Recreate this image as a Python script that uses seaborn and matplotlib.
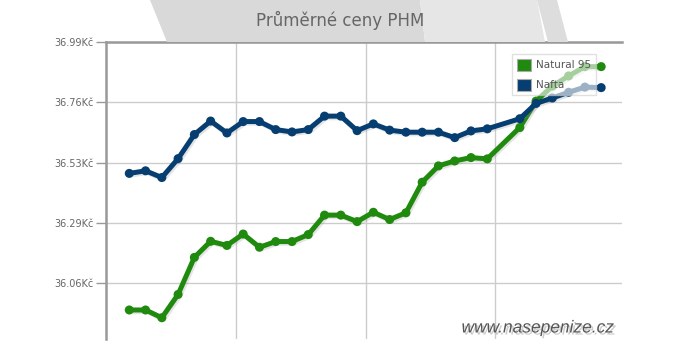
import numpy as np
import pandas as pd
import matplotlib
matplotlib.use("Agg")
import matplotlib.pyplot as plt
import matplotlib.patheffects as pe
from matplotlib.patches import Patch, Polygon
import seaborn as sns

# ---- data -------------------------------------------------------------
days = [0, 1, 2, 3, 4, 5, 6, 7, 8, 9, 10, 11, 12, 13, 14, 15, 16, 17, 18,
        19, 20, 21, 22, 24, 25, 26, 27, 28, 29]
natural95 = [35.956, 35.956, 35.926, 36.016, 36.159, 36.221, 36.205, 36.249,
             36.198, 36.220, 36.220, 36.247, 36.322, 36.322, 36.297, 36.333,
             36.305, 36.331, 36.449, 36.512, 36.531, 36.544, 36.539, 36.660,
             36.762, 36.820, 36.859, 36.895, 36.895]
nafta = [36.483, 36.493, 36.467, 36.540, 36.633, 36.685, 36.639, 36.683,
         36.683, 36.652, 36.643, 36.652, 36.704, 36.704, 36.648, 36.674,
         36.650, 36.642, 36.642, 36.642, 36.621, 36.647, 36.655, 36.694,
         36.753, 36.774, 36.796, 36.816, 36.814]
series_names = ["Natural 95", "Nafta"]
series_colors = ["#1f8a0d", "#073e71"]
ytick_values = [36.06, 36.2925, 36.525, 36.7575, 36.99]
ytick_labels = ["36.06Kč", "36.29Kč", "36.53Kč", "36.76Kč", "36.99Kč"]
title_text = "Průměrné ceny PHM"
watermark_text = "www.nasepenize.cz"

df = pd.concat([
    pd.DataFrame({"day": days, "price": natural95, "series": series_names[0]}),
    pd.DataFrame({"day": days, "price": nafta, "series": series_names[1]}),
])

# ---- figure -----------------------------------------------------------
sns.set_style("white")
plt.rcParams["font.family"] = ["DejaVu Sans"]

W, H = 690, 350
fig = plt.figure(figsize=(W / 100, H / 100), dpi=100)
fig.patch.set_facecolor("white")


def fp(x, y):
    return (x / W, 1 - y / H)


# decorative grey background shapes (top band)
for pts, col in [
    ([(150, 0), (167, 42), (425, 42), (420, 0)], "#d9d9d9"),
    ([(420, 0), (425, 42), (545, 42), (537, 0)], "#e6e6e6"),
    ([(537, 0), (557, 0), (568, 42), (548, 42)], "#dddddd"),
]:
    fig.patches.append(Polygon([fp(*p) for p in pts], closed=True,
                               transform=fig.transFigure, facecolor=col,
                               edgecolor="none", zorder=0))

ax = fig.add_axes([106 / W, 1 - 339 / H, (622 - 106) / W, (339 - 42) / H])
ax.set_facecolor("white")

sns.lineplot(data=df, x="day", y="price", hue="series",
             hue_order=series_names, palette=series_colors,
             marker="o", markersize=6.5, markeredgewidth=0,
             linewidth=3.6, legend=False, sort=False, ax=ax)

for ln in ax.lines:
    ln.set_path_effects([
        pe.SimpleLineShadow(offset=(1.2, -1.2), shadow_color="#888888", alpha=0.22),
        pe.Normal(),
    ])
    ln.set_solid_joinstyle("round")
    ln.set_solid_capstyle("round")

ax.set_xlim(-1.43, 30.28)
ax.set_ylim(35.844, 36.99)
ax.set_xticks([6.55, 14.55, 22.5])
ax.set_xticklabels([])
ax.set_yticks(ytick_values)
ax.set_yticklabels(ytick_labels)
ax.set_xlabel("")
ax.set_ylabel("")
ax.grid(True, color="#cccccc", linewidth=1)
ax.set_axisbelow(True)
ax.tick_params(axis="x", length=0)
ax.tick_params(axis="y", length=7, width=1, color="#999999",
               labelcolor="#666666", labelsize=7, pad=2, left=True)

for side in ["bottom", "right"]:
    ax.spines[side].set_visible(False)
for side in ["left", "top"]:
    ax.spines[side].set_visible(True)
    ax.spines[side].set_color("#999999")
    ax.spines[side].set_linewidth(1.8)

handles = [Patch(facecolor=c, edgecolor="#aaaaaa", linewidth=0.8)
           for c in series_colors]
leg = ax.legend(handles, series_names, loc="upper left",
                bbox_to_anchor=fp(512, 54), bbox_transform=fig.transFigure,
                frameon=True, fancybox=False, framealpha=0.6,
                edgecolor="#cccccc", fontsize=7.5, handlelength=1.4,
                handleheight=1.4, labelspacing=0.75, borderpad=0.45,
                handletextpad=0.45, borderaxespad=0, labelcolor="#555555")
leg.get_frame().set_linewidth(1)

fig.text(*fp(340, 20), title_text, ha="center", va="center",
         fontsize=12, color="#666666")

fig.text(*fp(614, 328), watermark_text, ha="right", va="center",
         fontsize=12.5, style="italic", family=["Liberation Sans", "DejaVu Sans"],
         color="#555555",
         path_effects=[pe.withSimplePatchShadow(offset=(1.5, -1.5),
                                                shadow_rgbFace="#999999",
                                                alpha=0.5)])

fig.savefig("out.png", dpi=100)
